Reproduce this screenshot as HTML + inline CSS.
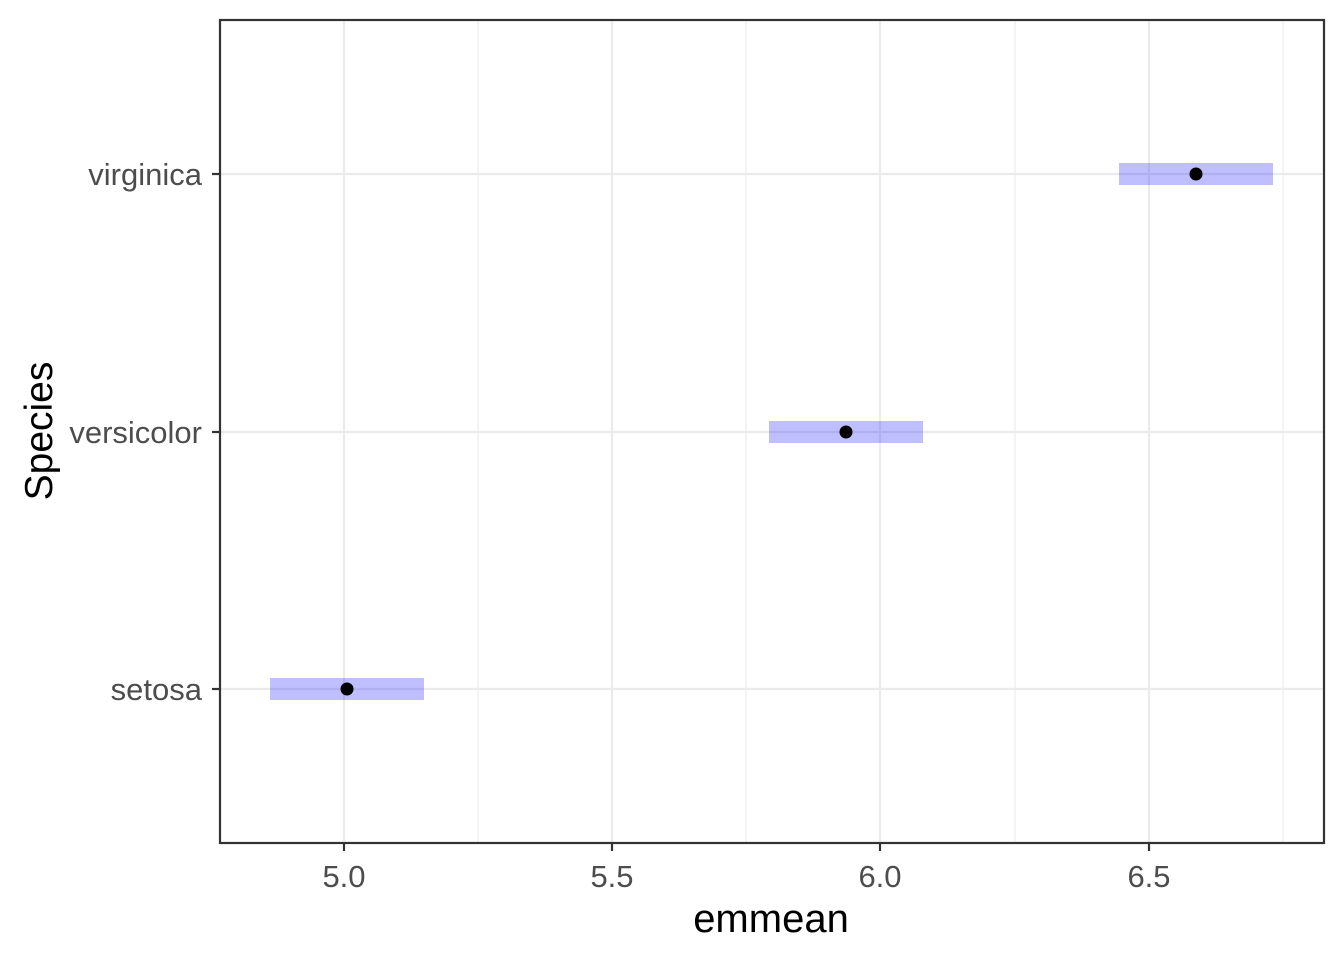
<!DOCTYPE html>
<html><head><meta charset="utf-8"><style>html,body{margin:0;padding:0;background:#fff}</style></head>
<body>
<svg width="1344" height="960" xmlns="http://www.w3.org/2000/svg" font-family="Liberation Sans, Arial, sans-serif">
<rect width="1344" height="960" fill="#fff"/>
<g stroke="#ebebeb" stroke-width="1.1">
<line x1="478" y1="20" x2="478" y2="843"/><line x1="746" y1="20" x2="746" y2="843"/>
<line x1="1015" y1="20" x2="1015" y2="843"/><line x1="1283" y1="20" x2="1283" y2="843"/>
</g>
<g stroke="#ebebeb" stroke-width="2.2">
<line x1="344" y1="20" x2="344" y2="843"/><line x1="612" y1="20" x2="612" y2="843"/>
<line x1="880" y1="20" x2="880" y2="843"/><line x1="1149" y1="20" x2="1149" y2="843"/>
<line x1="220" y1="174" x2="1324" y2="174"/><line x1="220" y1="432" x2="1324" y2="432"/>
<line x1="220" y1="689" x2="1324" y2="689"/>
</g>
<g fill="#0000ff" fill-opacity="0.25">
<rect x="270" y="678" width="154" height="22"/>
<rect x="769" y="421" width="154" height="22"/>
<rect x="1119" y="163" width="154" height="22"/>
</g>
<g fill="#000">
<circle cx="347" cy="689" r="6.5"/><circle cx="846" cy="432" r="6.5"/><circle cx="1196" cy="174" r="6.5"/>
</g>
<rect x="220" y="20" width="1104" height="823" fill="none" stroke="#333" stroke-width="2.2"/>
<g stroke="#333" stroke-width="2.2">
<line x1="344" y1="843" x2="344" y2="851"/><line x1="612" y1="843" x2="612" y2="851"/>
<line x1="880" y1="843" x2="880" y2="851"/><line x1="1149" y1="843" x2="1149" y2="851"/>
<line x1="212" y1="174" x2="220" y2="174"/><line x1="212" y1="432" x2="220" y2="432"/>
<line x1="212" y1="689" x2="220" y2="689"/>
</g>
<g fill="#4d4d4d" font-size="31" text-anchor="middle">
<text x="344" y="887">5.0</text><text x="612" y="887">5.5</text>
<text x="880" y="887">6.0</text><text x="1149" y="887">6.5</text>
</g>
<g fill="#4d4d4d" font-size="31" text-anchor="end">
<text x="202" y="185">virginica</text><text x="202" y="443">versicolor</text><text x="202" y="700">setosa</text>
</g>
<text x="771" y="932" font-size="40" text-anchor="middle" fill="#000">emmean</text>
<text x="0" y="0" font-size="39" text-anchor="middle" fill="#000" transform="translate(52,431) rotate(-90)">Species</text>
</svg>
</body></html>
